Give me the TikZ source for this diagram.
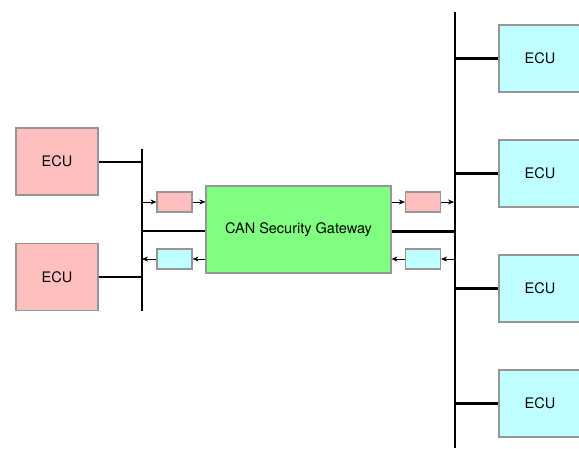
\documentclass[tikz,border=0pt]{standalone}
\usepackage{fontspec}
\setmainfont{TeX Gyre Heros}
\usetikzlibrary{arrows.meta}
\definecolor{ecupink}{RGB}{255,191,191}
\definecolor{ecucyan}{RGB}{191,255,255}
\definecolor{gwgreen}{RGB}{128,255,128}
\definecolor{boxgray}{RGB}{150,150,150}
\begin{document}
\begin{tikzpicture}[x=1pt,y=-1pt,
  ecubox/.style={draw=boxgray,line width=1.2pt,minimum width=82pt,minimum height=67pt,inner sep=0pt,font=\fontsize{14.5}{16}\selectfont},
  msgbox/.style={draw=boxgray,line width=1.2pt,minimum width=35pt,minimum height=20pt,inner sep=0pt},
  bus/.style={line width=2.7pt},
  link/.style={line width=2.5pt},
  sig/.style={line width=0.5pt,-{Stealth[length=6pt,width=5pt]}}]
\useasboundingbox (0,0) rectangle (579,448);
% left ECUs
\node[ecubox,fill=ecupink] (l1) at (57,161.5) {ECU};
\node[ecubox,fill=ecupink] (l2) at (57,277) {ECU};
% left bus
\coordinate (lbt) at (142,149);
\coordinate (lbb) at (142,311);
\draw[bus] (lbt) -- (lbb);
\draw[link] (l1.east |- 0,162) -- (142,162);
\draw[link] (l2.east |- 0,277) -- (142,277);
% gateway
\node[draw=boxgray,line width=1.2pt,fill=gwgreen,minimum width=185pt,minimum height=87pt,inner sep=0pt,font=\fontsize{14.5}{16}\selectfont] (gw) at (298.5,229.5) {CAN Security Gateway};
\draw[link] (142,231) -- (gw.west |- 0,231);
% right bus
\draw[bus] (455,12) -- (455,448);
\draw[link] (gw.east |- 0,231.5) -- (455,231.5);
% right ECUs
\node[ecubox,fill=ecucyan] (r1) at (540,58.5) {ECU};
\node[ecubox,fill=ecucyan] (r2) at (540,173.5) {ECU};
\node[ecubox,fill=ecucyan] (r3) at (540,288.5) {ECU};
\node[ecubox,fill=ecucyan] (r4) at (540,403.5) {ECU};
\foreach \n in {r1,r2,r3,r4}{\draw[link] (455,0 |- \n.west) -- (\n.west);}
% message boxes left
\node[msgbox,fill=ecupink] (lp) at (174.5,202) {};
\node[msgbox,fill=ecucyan] (lc) at (174.5,259) {};
\coordinate (lpin) at (142,202);
\coordinate (lcout) at (142,259);
\draw[sig] (lpin) -- (lp.west);
\draw[sig] (lp.east) -- (gw.west |- lp.east);
\draw[sig] (gw.west |- lc.east) -- (lc.east);
\draw[sig] (lc.west) -- (lcout);
% message boxes right
\node[msgbox,fill=ecupink] (rp) at (423,202) {};
\node[msgbox,fill=ecucyan] (rc) at (423,259) {};
\coordinate (rpout) at (454,202);
\coordinate (rcin) at (454,259);
\draw[sig] (gw.east |- rp.west) -- (rp.west);
\draw[sig] (rp.east) -- (rpout);
\draw[sig] (rcin) -- (rc.east);
\draw[sig] (rc.west) -- (gw.east |- rc.west);
\end{tikzpicture}
\end{document}
